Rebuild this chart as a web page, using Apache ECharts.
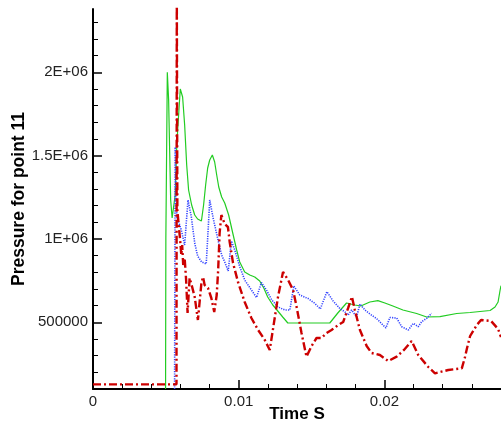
<!DOCTYPE html>
<html><head><meta charset="utf-8">
<script src="https://cdn.jsdelivr.net/npm/echarts@6/dist/echarts.min.js"></script>
<style>html,body{margin:0;padding:0;background:#fff}#c{width:501px;height:426px}</style>
</head><body><div id="c"></div>
<script>
// Green solid series
const greenX=[0.00498,0.00500,0.00510,0.00519,0.00526,0.00533,0.00543,0.00553,0.00564,0.00574,0.00581,0.00599,0.00615,0.00629,0.00643,0.00656,0.00677,0.00698,0.00718,0.00744,0.00759,0.00773,0.00787,0.00801,0.00819,0.00835,0.00849,0.00863,0.00883,0.00904,0.00931,0.00959,0.00986,0.01007,0.01041,0.01076,0.01110,0.01144,0.01172,0.01199,0.01234,0.01268,0.01302,0.01337,0.01625,0.01680,0.01740,0.01797,0.01838,0.01900,0.01955,0.02003,0.02058,0.02127,0.02221,0.02290,0.02381,0.02496,0.02588,0.02656,0.02725,0.02759,0.02780,0.02794,0.02800];
const greenY=[100000,1000000,2000000,1834000,1534000,1234000,1126000,1114000,1264000,1534000,1654000,1900000,1852000,1684000,1444000,1294000,1204000,1144000,1120000,1108000,1204000,1324000,1426000,1474000,1504000,1462000,1384000,1312000,1252000,1216000,1144000,1036000,934000,862000,802000,784000,772000,748000,706000,652000,604000,568000,532000,496000,496000,556000,616000,604000,598000,622000,630000,616000,598000,574000,553000,532000,534000,553000,559000,565000,571000,592000,622000,694000,720000];
// Blue dotted series
const blueX=[0.00560,0.00564,0.00570,0.00577,0.00588,0.00606,0.00629,0.00639,0.00652,0.00675,0.00698,0.00718,0.00746,0.00777,0.00789,0.00801,0.00823,0.00858,0.00883,0.00904,0.00928,0.00950,0.00973,0.01007,0.01041,0.01087,0.01122,0.01134,0.01156,0.01190,0.01227,0.01270,0.01316,0.01351,0.01378,0.01419,0.01476,0.01522,0.01560,0.01605,0.01648,0.01694,0.01729,0.01751,0.01775,0.01809,0.01832,0.01866,0.01900,0.01946,0.01976,0.02010,0.02038,0.02084,0.02118,0.02164,0.02198,0.02232,0.02256,0.02290,0.02324];
const blueY=[100000,1552000,1234000,1126000,1102000,1054000,964000,1084000,1234000,1132000,976000,898000,862000,850000,1036000,1234000,1132000,994000,904000,862000,808000,988000,934000,834000,754000,694000,649000,646000,739000,694000,634000,592000,574000,574000,718000,664000,643000,614000,580000,684000,628000,583000,562000,544000,574000,532000,610000,574000,550000,523000,496000,466000,529000,526000,474000,454000,494000,474000,504000,524000,554000];
// Red dash-dot series
const redX=[0,0.00573,0.00575,0.00579,0.00588,0.00598,0.00606,0.00612,0.00619,0.00629,0.00639,0.00649,0.00663,0.00677,0.00698,0.00720,0.00744,0.00755,0.00766,0.00789,0.00812,0.00832,0.00849,0.00859,0.00869,0.00881,0.00904,0.00926,0.00938,0.00961,0.00995,0.01041,0.01087,0.01133,0.01179,0.01213,0.01247,0.01270,0.01304,0.01339,0.01373,0.01397,0.01431,0.01465,0.01500,0.01534,0.01568,0.01603,0.01637,0.01683,0.01717,0.01751,0.01777,0.01797,0.01832,0.01878,0.01912,0.01969,0.02026,0.02084,0.02134,0.02187,0.02232,0.02301,0.02347,0.02438,0.02531,0.02553,0.02567,0.02588,0.02634,0.02663,0.02732,0.02780,0.02800];
const redY=[128000,128000,2500000,1174000,1084000,994000,904000,964000,844000,886000,754000,556000,766000,724000,652000,514000,736000,772000,724000,706000,646000,562000,664000,814000,1036000,1144000,1090000,1072000,982000,856000,742000,622000,526000,454000,394000,334000,526000,654000,802000,754000,694000,594000,436000,294000,358000,406000,406000,436000,454000,484000,502000,586000,654000,574000,454000,358000,316000,304000,268000,294000,334000,388000,304000,232000,194000,214000,224000,292000,346000,418000,484000,514000,508000,460000,412000];

const xTickValues=[0,0.01,0.02];
const xTickLabels=['0','0.01','0.02'];
const xMinorTicks=[0.002,0.004,0.006,0.008,0.012,0.014,0.016,0.018,0.022,0.024,0.026,0.028];
const yTickValues=[500000,1000000,1500000,2000000];
const yTickLabels=['500000','1E+06','1.5E+06','2E+06'];
const yMinorTicks=[200000,300000,400000,600000,700000,800000,900000,1100000,1200000,1300000,1400000,1600000,1700000,1800000,1900000,2100000,2200000,2300000];

const FONT="'Liberation Sans', Arial, sans-serif";
const zip=(a,b)=>a.map((v,i)=>[v,b[i]]);
const lab=(vals,labs)=>v=>{const i=vals.findIndex(t=>Math.abs(t-v)<1e-9*Math.max(1,Math.abs(t)));return i>=0?labs[i]:'';};

const chart=echarts.init(document.getElementById('c'),null,{renderer:'canvas'});
chart.setOption({
  animation:false,
  backgroundColor:'#ffffff',
  grid:{left:93,right:0,top:9,bottom:37,containLabel:false,outerBoundsMode:'none'},
  xAxis:[{
    type:'value',min:0,max:0.028,
    name:'Time S',nameLocation:'middle',nameGap:17,nameMoveOverlap:false,
    nameTextStyle:{fontFamily:FONT,fontWeight:'bold',fontSize:17,color:'#000',verticalAlign:'top'},
    axisLine:{show:true,onZero:false,lineStyle:{color:'#000',width:2}},
    axisTick:{show:true,inside:true,length:9,customValues:xTickValues,lineStyle:{color:'#000',width:1.5}},
    axisLabel:{show:true,customValues:xTickValues,formatter:lab(xTickValues,xTickLabels),margin:5,fontFamily:FONT,fontSize:15,color:'#222'},
    splitLine:{show:false}
  },{
    type:'value',min:0,max:0.028,position:'bottom',
    axisLine:{show:false},
    axisTick:{show:true,inside:true,length:5,customValues:xMinorTicks,lineStyle:{color:'#000',width:1}},
    axisLabel:{show:false},splitLine:{show:false}
  }],
  yAxis:[{
    type:'value',min:100000,max:2380000,
    name:'Pressure for point 11',nameLocation:'middle',nameGap:65,nameMoveOverlap:false,
    nameTextStyle:{fontFamily:FONT,fontWeight:'bold',fontSize:17.5,color:'#000'},
    axisLine:{show:true,onZero:false,lineStyle:{color:'#000',width:2}},
    axisTick:{show:true,inside:true,length:9,customValues:yTickValues,lineStyle:{color:'#000',width:1.5}},
    axisLabel:{show:true,customValues:yTickValues,formatter:lab(yTickValues,yTickLabels),margin:5,fontFamily:FONT,fontSize:15,color:'#222'},
    splitLine:{show:false}
  },{
    type:'value',min:100000,max:2380000,position:'left',
    axisLine:{show:false},
    axisTick:{show:true,inside:true,length:5,customValues:yMinorTicks,lineStyle:{color:'#000',width:1}},
    axisLabel:{show:false},splitLine:{show:false}
  }],
  series:[
    {type:'line',name:'green',data:zip(greenX,greenY),showSymbol:false,symbol:'none',clip:true,
     lineStyle:{color:'#22cc22',width:1.2,type:'solid'}},
    {type:'line',name:'blue',data:zip(blueX,blueY),showSymbol:false,symbol:'none',clip:true,
     lineStyle:{color:'#3344ff',width:1.6,type:[1.2,1.2]}},
    {type:'line',name:'red',data:zip(redX,redY),showSymbol:false,symbol:'none',clip:true,
     lineStyle:{color:'#cc0000',width:2.4,type:[8,3,2,3]}}
  ]
});
</script></body></html>
